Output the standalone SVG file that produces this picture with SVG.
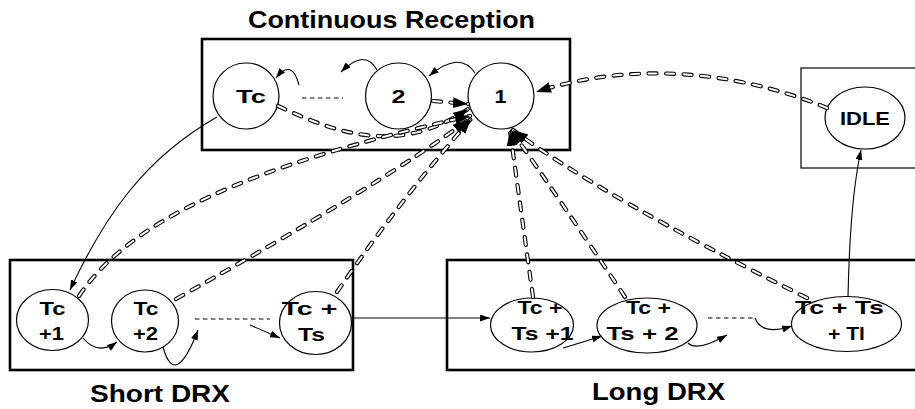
<svg xmlns="http://www.w3.org/2000/svg" width="915" height="409" viewBox="0 0 915 409">
<style>
.box{fill:none;stroke:#000;stroke-width:2.6}
.box-thin{fill:none;stroke:#000;stroke-width:1.2}
.node{fill:#fff;stroke:#000;stroke-width:1.2}
.lbl{font-family:"Liberation Sans",Arial,sans-serif;font-weight:bold;font-size:18px;fill:#000;text-anchor:middle}
.title{font-family:"Liberation Sans",Arial,sans-serif;font-weight:bold;font-size:24px;fill:#000;text-anchor:middle}
.solid{fill:none;stroke:#000;stroke-width:1.1;marker-end:url(#arrowS)}
.sep{fill:none;stroke:#000;stroke-width:1;stroke-dasharray:4.5 3.5}
.ddo{fill:none;stroke:#000;stroke-width:4.2;stroke-dasharray:8 9.5;stroke-linecap:round}
.ddi{fill:none;stroke:#fff;stroke-width:2;stroke-dasharray:8 9.5;stroke-linecap:round}
.ddh{fill:none;stroke:none;marker-end:url(#arrowB)}
</style>
<defs>
<marker id="arrowS" markerUnits="userSpaceOnUse" markerWidth="11" markerHeight="8" refX="10" refY="3.5" orient="auto">
<path d="M0,0 L10,3.5 L0,7 z" fill="#000"/>
</marker>
<marker id="arrowB" markerUnits="userSpaceOnUse" markerWidth="16" markerHeight="12" refX="15" refY="5.5" orient="auto">
<path d="M0,0 L15,5.5 L0,11 z" fill="#000"/>
</marker>
<path id="d1" d="M 827 108 C 760 80, 650 55, 536 92"/>
<path id="d2" d="M 278 106 C 340 135, 400 155, 468 109"/>
<path id="d3" d="M 433 101 L 468 104"/>
<path id="d4" d="M 79 296 C 130 220, 250 165, 470 116"/>
<path id="d5" d="M 176 299 Q 380 185, 468 120"/>
<path id="d6" d="M 337 292 Q 400 200, 471 119"/>
<path id="d7" d="M 533 297 L 510 131"/>
<path id="d8" d="M 625 297 Q 560 200, 511 130"/>
<path id="d9" d="M 807 298 Q 600 195, 513 130"/>
</defs>
<rect width="915" height="409" fill="#fff"/>

<g id="cluster-continuous-reception">
<rect class="box" x="202" y="39" width="368" height="111"/>
<text class="title" x="391.5" y="28" textLength="287" lengthAdjust="spacingAndGlyphs">Continuous Reception</text>
</g>
<g id="cluster-short-drx">
<rect class="box" x="10" y="260" width="343" height="110"/>
<text class="title" x="160" y="402" textLength="140" lengthAdjust="spacingAndGlyphs">Short DRX</text>
</g>
<g id="cluster-long-drx">
<rect class="box" x="447" y="260" width="480" height="110"/>
<text class="title" x="658.5" y="400" textLength="133" lengthAdjust="spacingAndGlyphs">Long DRX</text>
</g>
<g id="cluster-idle">
<rect class="box-thin" x="801" y="68" width="130" height="100"/>
</g>

<g id="node-tc">
<circle class="node" cx="246" cy="96" r="33"/>
<text class="lbl" x="251" y="103" textLength="30" lengthAdjust="spacingAndGlyphs">Tc</text>
</g>
<g id="node-2">
<circle class="node" cx="398.5" cy="96" r="33"/>
<text class="lbl" x="398.5" y="103" textLength="14" lengthAdjust="spacingAndGlyphs">2</text>
</g>
<g id="node-1">
<circle class="node" cx="501" cy="96" r="33"/>
<text class="lbl" x="500.5" y="103" textLength="12" lengthAdjust="spacingAndGlyphs">1</text>
</g>
<g id="node-idle">
<ellipse class="node" cx="865" cy="118" rx="40" ry="31"/>
<text class="lbl" x="865" y="125" textLength="50" lengthAdjust="spacingAndGlyphs">IDLE</text>
</g>
<g id="node-tc1">
<ellipse class="node" cx="52.5" cy="320" rx="36" ry="30.5"/>
<text class="lbl" x="52.5" y="315" textLength="26" lengthAdjust="spacingAndGlyphs">Tc</text>
<text class="lbl" x="51.5" y="340" textLength="25" lengthAdjust="spacingAndGlyphs">+1</text>
</g>
<g id="node-tc2">
<ellipse class="node" cx="145" cy="321" rx="33.5" ry="31"/>
<text class="lbl" x="146" y="315" textLength="25" lengthAdjust="spacingAndGlyphs">Tc</text>
<text class="lbl" x="145.5" y="340" textLength="25" lengthAdjust="spacingAndGlyphs">+2</text>
</g>
<g id="node-tcts">
<ellipse class="node" cx="315.5" cy="323" rx="36" ry="31.5"/>
<text class="lbl" x="309.5" y="315" textLength="56" lengthAdjust="spacingAndGlyphs">Tc +</text>
<text class="lbl" x="311.5" y="340.5" textLength="27" lengthAdjust="spacingAndGlyphs">Ts</text>
</g>
<g id="node-tcts1">
<ellipse class="node" cx="532" cy="325" rx="41.5" ry="27"/>
<text class="lbl" x="540" y="313.5" textLength="45" lengthAdjust="spacingAndGlyphs">Tc +</text>
<text class="lbl" x="542.5" y="340" textLength="62" lengthAdjust="spacingAndGlyphs">Ts +1</text>
</g>
<g id="node-tcts2">
<ellipse class="node" cx="647" cy="325.5" rx="50" ry="27.5"/>
<text class="lbl" x="648.5" y="313.5" textLength="45" lengthAdjust="spacingAndGlyphs">Tc +</text>
<text class="lbl" x="642.5" y="340" textLength="72" lengthAdjust="spacingAndGlyphs">Ts + 2</text>
</g>
<g id="node-tctstl">
<ellipse class="node" cx="846.5" cy="324" rx="55" ry="27.5"/>
<text class="lbl" x="839.5" y="313.5" textLength="89" lengthAdjust="spacingAndGlyphs">Tc + Ts</text>
<text class="lbl" x="846.5" y="340" textLength="37" lengthAdjust="spacingAndGlyphs">+ Tl</text>
</g>

<g id="connectors">
<line class="sep" x1="302" y1="98" x2="343" y2="98"/>
<line class="sep" x1="195" y1="319" x2="270" y2="319"/>
<line class="sep" x1="708" y1="318" x2="753" y2="318"/>

<path class="solid" d="M 475 73 Q 460 50, 429 76"/>
<path class="solid" d="M 377 70 Q 365 48, 341 72"/>
<path class="solid" d="M 299 85 Q 292 58, 276 78"/>
<path class="solid" d="M 217 117 C 145 158, 105 215, 70 290"/>
<path class="solid" d="M 83 338 Q 98 356, 117 342"/>
<path class="solid" d="M 163 347 Q 175 390, 198 330"/>
<path class="solid" d="M 250 325 L 280 338"/>
<path class="solid" d="M 352 318 L 490 318"/>
<path class="solid" d="M 563 348 Q 580 343, 602 336"/>
<path class="solid" d="M 688 343 Q 697 352, 727 335"/>
<path class="solid" d="M 755 318 Q 762 336, 792 326"/>
<path class="solid" d="M 848 297 Q 850 200, 861 150"/>

<use class="ddo" href="#d1"/><use class="ddi" href="#d1"/>
<use class="ddo" href="#d2"/><use class="ddi" href="#d2"/>
<use class="ddo" href="#d3"/><use class="ddi" href="#d3"/>
<use class="ddo" href="#d4"/><use class="ddi" href="#d4"/>
<use class="ddo" href="#d5"/><use class="ddi" href="#d5"/>
<use class="ddo" href="#d6"/><use class="ddi" href="#d6"/>
<use class="ddo" href="#d7"/><use class="ddi" href="#d7"/>
<use class="ddo" href="#d8"/><use class="ddi" href="#d8"/>
<use class="ddo" href="#d9"/><use class="ddi" href="#d9"/>
<use class="ddh" href="#d1"/><use class="ddh" href="#d2"/><use class="ddh" href="#d3"/>
<use class="ddh" href="#d4"/><use class="ddh" href="#d5"/><use class="ddh" href="#d6"/>
<use class="ddh" href="#d7"/><use class="ddh" href="#d8"/><use class="ddh" href="#d9"/>
</g>
</svg>
